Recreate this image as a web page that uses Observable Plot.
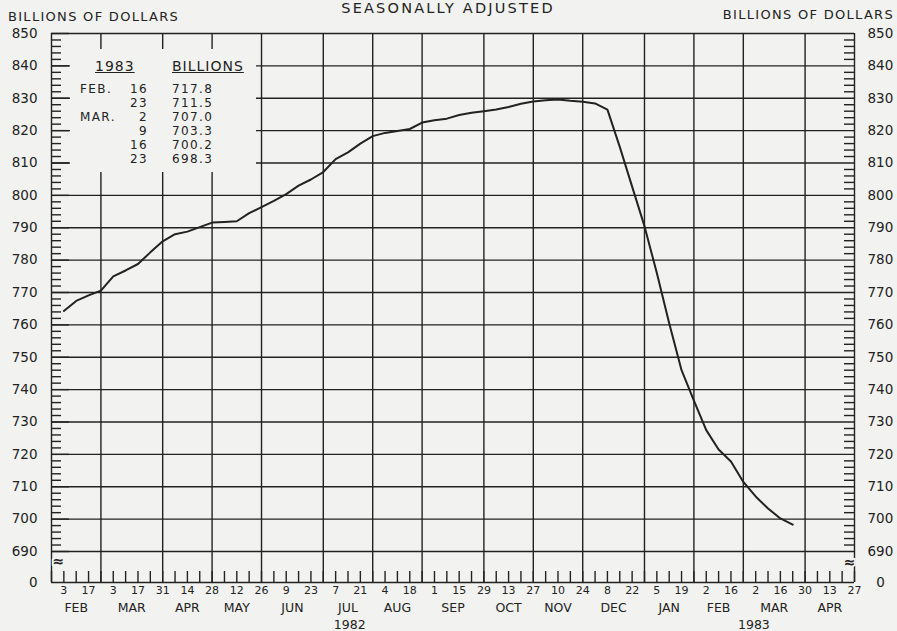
<!DOCTYPE html>
<html><head><meta charset="utf-8">
<script src="https://cdn.jsdelivr.net/npm/d3@7"></script>
<script src="https://cdn.jsdelivr.net/npm/@observablehq/plot@0.6"></script>
<style>
html,body{margin:0;padding:0;background:#f2f2f0;}
#wrap{position:relative;width:897px;height:631px;overflow:hidden;font-family:"DejaVu Sans",sans-serif;color:#222;}
.hdr{position:absolute;font-size:13px;letter-spacing:1.3px;white-space:nowrap;line-height:16px;}
#table{position:absolute;left:70px;top:49px;width:186px;height:123px;background:#f2f2f0;font-size:12px;letter-spacing:1.4px;}
#table span{position:absolute;white-space:nowrap;line-height:14px;height:14px;}
</style></head><body><div id="wrap"></div>
<script>
const paper = "#f2f2f0", ink = "#222222";

// weekly series, Wednesdays from 1982-02-03 to 1983-03-23 (billions of dollars)
const startDate = "1982-02-03";
const values = [
  764.3, 767.4, 769.1, 770.6,               // Feb 1982
  775.0, 776.8, 778.8, 782.4, 785.8,        // Mar
  788.0, 788.8, 790.2, 791.6,               // Apr
  791.8, 792.0, 794.5, 796.4,               // May
  798.3, 800.4, 803.0, 804.9, 807.2,        // Jun
  811.2, 813.3, 816.0, 818.3,               // Jul
  819.3, 819.9, 820.5, 822.5,               // Aug
  823.2, 823.7, 824.8, 825.5, 826.0,        // Sep
  826.5, 827.3, 828.3, 829.0,               // Oct
  829.4, 829.6, 829.2, 828.9,               // Nov
  828.4, 826.5, 815.0, 802.7, 790.5,        // Dec
  776.0, 760.5, 746.0, 736.6,               // Jan 1983
  727.5, 721.5, 717.8, 711.5,               // Feb
  707.0, 703.3, 700.2, 698.3                // Mar
];

// table (last six weeks)
const tableMonths = ["FEB.", "", "MAR.", "", "", ""];
const tableDays = ["16", "23", "2", "9", "16", "23"];
const tableValues = values.slice(-6);

// x axis
const xStart = "1982-01-27", xEnd = "1983-04-27";
const monthEnds = ["1982-01-27","1982-02-24","1982-03-31","1982-04-28","1982-05-26","1982-06-30",
  "1982-07-28","1982-08-25","1982-09-29","1982-10-27","1982-11-24","1982-12-29",
  "1983-01-26","1983-02-23","1983-03-30","1983-04-27"];
const monthNames = ["FEB","MAR","APR","MAY","JUN","JUL","AUG","SEP","OCT","NOV","DEC","JAN","FEB","MAR","APR"];
const yearLabels = ["1982", "1983"];
const yearDates = ["1982-07-15", "1983-03-01"];

// y axis
const yGrid = d3.range(690, 851, 10);
const yLabels = [0, ...yGrid];
const yMinor = d3.range(692, 850, 2).filter(v => v % 10 !== 0);

const parse = d3.utcParse("%Y-%m-%d");
const series = values.map((v, i) => ({date: d3.utcDay.offset(parse(startDate), 7 * i), value: v}));
const weeks = d3.utcWednesday.range(parse(xStart), d3.utcDay.offset(parse(xEnd), 1));
const gridDates = monthEnds.map(parse);
const dayTicks = weeks.filter((d, i) => i % 2 === 1);
const months = monthNames.map((m, i) => ({
  date: new Date((gridDates[i].getTime() + gridDates[i + 1].getTime()) / 2), label: m}));
const years = yearLabels.map((y, i) => ({date: parse(yearDates[i]), label: y}));

const W = 897, H = 631, mL = 51, mR = 43, mT = 33, mB = 49;
const frameW = W - mL - mR, frameH = H - mT - mB;

const chart = Plot.plot({
  width: W, height: H,
  marginTop: mT, marginBottom: mB, marginLeft: mL, marginRight: mR,
  x: {type: "utc", domain: [parse(xStart), parse(xEnd)], range: [mL, W - mR], axis: null},
  y: {type: "linear", domain: [0, 690, 850], range: [H - mB, 551, mT], axis: null},
  style: {background: paper, fontFamily: "DejaVu Sans, sans-serif", color: ink},
  marks: [
    Plot.ruleY(yGrid, {stroke: ink, strokeWidth: 1.4}),
    Plot.ruleY([0], {stroke: ink, strokeWidth: 1.6}),
    Plot.ruleX(gridDates, {y1: 0, y2: 850, stroke: ink, strokeWidth: 1.4}),
    Plot.tickY(yMinor, {y: d => d, insetRight: frameW - 10, stroke: ink, strokeWidth: 1.4}),
    Plot.tickY(yGrid, {y: d => d, insetRight: frameW - 18, stroke: ink, strokeWidth: 1.4}),
    Plot.tickY(yMinor, {y: d => d, insetLeft: frameW - 10, stroke: ink, strokeWidth: 1.4}),
    Plot.tickX(weeks, {x: d => d, insetTop: frameH - 11, stroke: ink, strokeWidth: 1.4}),
    Plot.line(series, {x: "date", y: "value", stroke: ink, strokeWidth: 2, curve: "linear"}),
    Plot.text(yLabels, {y: d => d, text: d => String(d), frameAnchor: "left", textAnchor: "end", dx: -14, fontSize: 13.5, fill: ink}),
    Plot.text(yGrid, {y: d => d, text: d => String(d), frameAnchor: "right", textAnchor: "start", dx: 13, fontSize: 13.5, fill: ink}),
    Plot.text([0], {y: d => d, text: d => String(d), frameAnchor: "right", textAnchor: "middle", dx: 26, fontSize: 13.5, fill: ink}),
    Plot.text(dayTicks, {x: d => d, text: d => String(d.getUTCDate()), frameAnchor: "bottom", dy: 11, fontSize: 11, fill: ink}),
    Plot.text(months, {x: "date", text: "label", frameAnchor: "bottom", dy: 29, fontSize: 12.5, fill: ink, style: "letter-spacing:0.6px"}),
    Plot.text(years, {x: "date", text: "label", frameAnchor: "bottom", dy: 46, fontSize: 12.5, fill: ink}),
    Plot.text(["≈"], {frameAnchor: "bottom-left", dy: -17, dx: 1, fontSize: 14, fill: ink, stroke: paper, strokeWidth: 4, paintOrder: "stroke", fontWeight: "bold"}),
    Plot.text(["≈"], {frameAnchor: "bottom-right", dy: -16, dx: 1, fontSize: 14, fill: ink, stroke: paper, strokeWidth: 4, paintOrder: "stroke", fontWeight: "bold"})
  ]
});

const wrap = document.getElementById("wrap");
wrap.appendChild(chart);

function addSpan(parent, cls, text, css) {
  const s = document.createElement("span");
  if (cls) s.className = cls;
  s.textContent = text;
  s.style.cssText = css;
  parent.appendChild(s);
  return s;
}
addSpan(wrap, "hdr", "BILLIONS OF DOLLARS", "left:8px;top:9px;");
addSpan(wrap, "hdr", "BILLIONS OF DOLLARS", "right:3px;top:7px;");
addSpan(wrap, "hdr", "SEASONALLY ADJUSTED", "left:448px;top:0px;transform:translateX(-50%);font-size:14.5px;letter-spacing:2.2px;");

const table = document.createElement("div");
table.id = "table";
wrap.appendChild(table);
addSpan(table, "", "1983", "left:25px;top:9px;text-decoration:underline;font-size:14px;line-height:16px;height:16px;letter-spacing:1px;");
addSpan(table, "", "BILLIONS", "left:102px;top:9px;text-decoration:underline;font-size:14px;line-height:16px;height:16px;letter-spacing:1px;");
tableValues.forEach((v, i) => {
  const top = 33 + i * 14;
  if (tableMonths[i]) addSpan(table, "", tableMonths[i], `left:10px;top:${top}px;`);
  addSpan(table, "", tableDays[i], `right:${186 - 78}px;top:${top}px;`);
  addSpan(table, "", v.toFixed(1), `left:102px;top:${top}px;`);
});
</script>
</body></html>
